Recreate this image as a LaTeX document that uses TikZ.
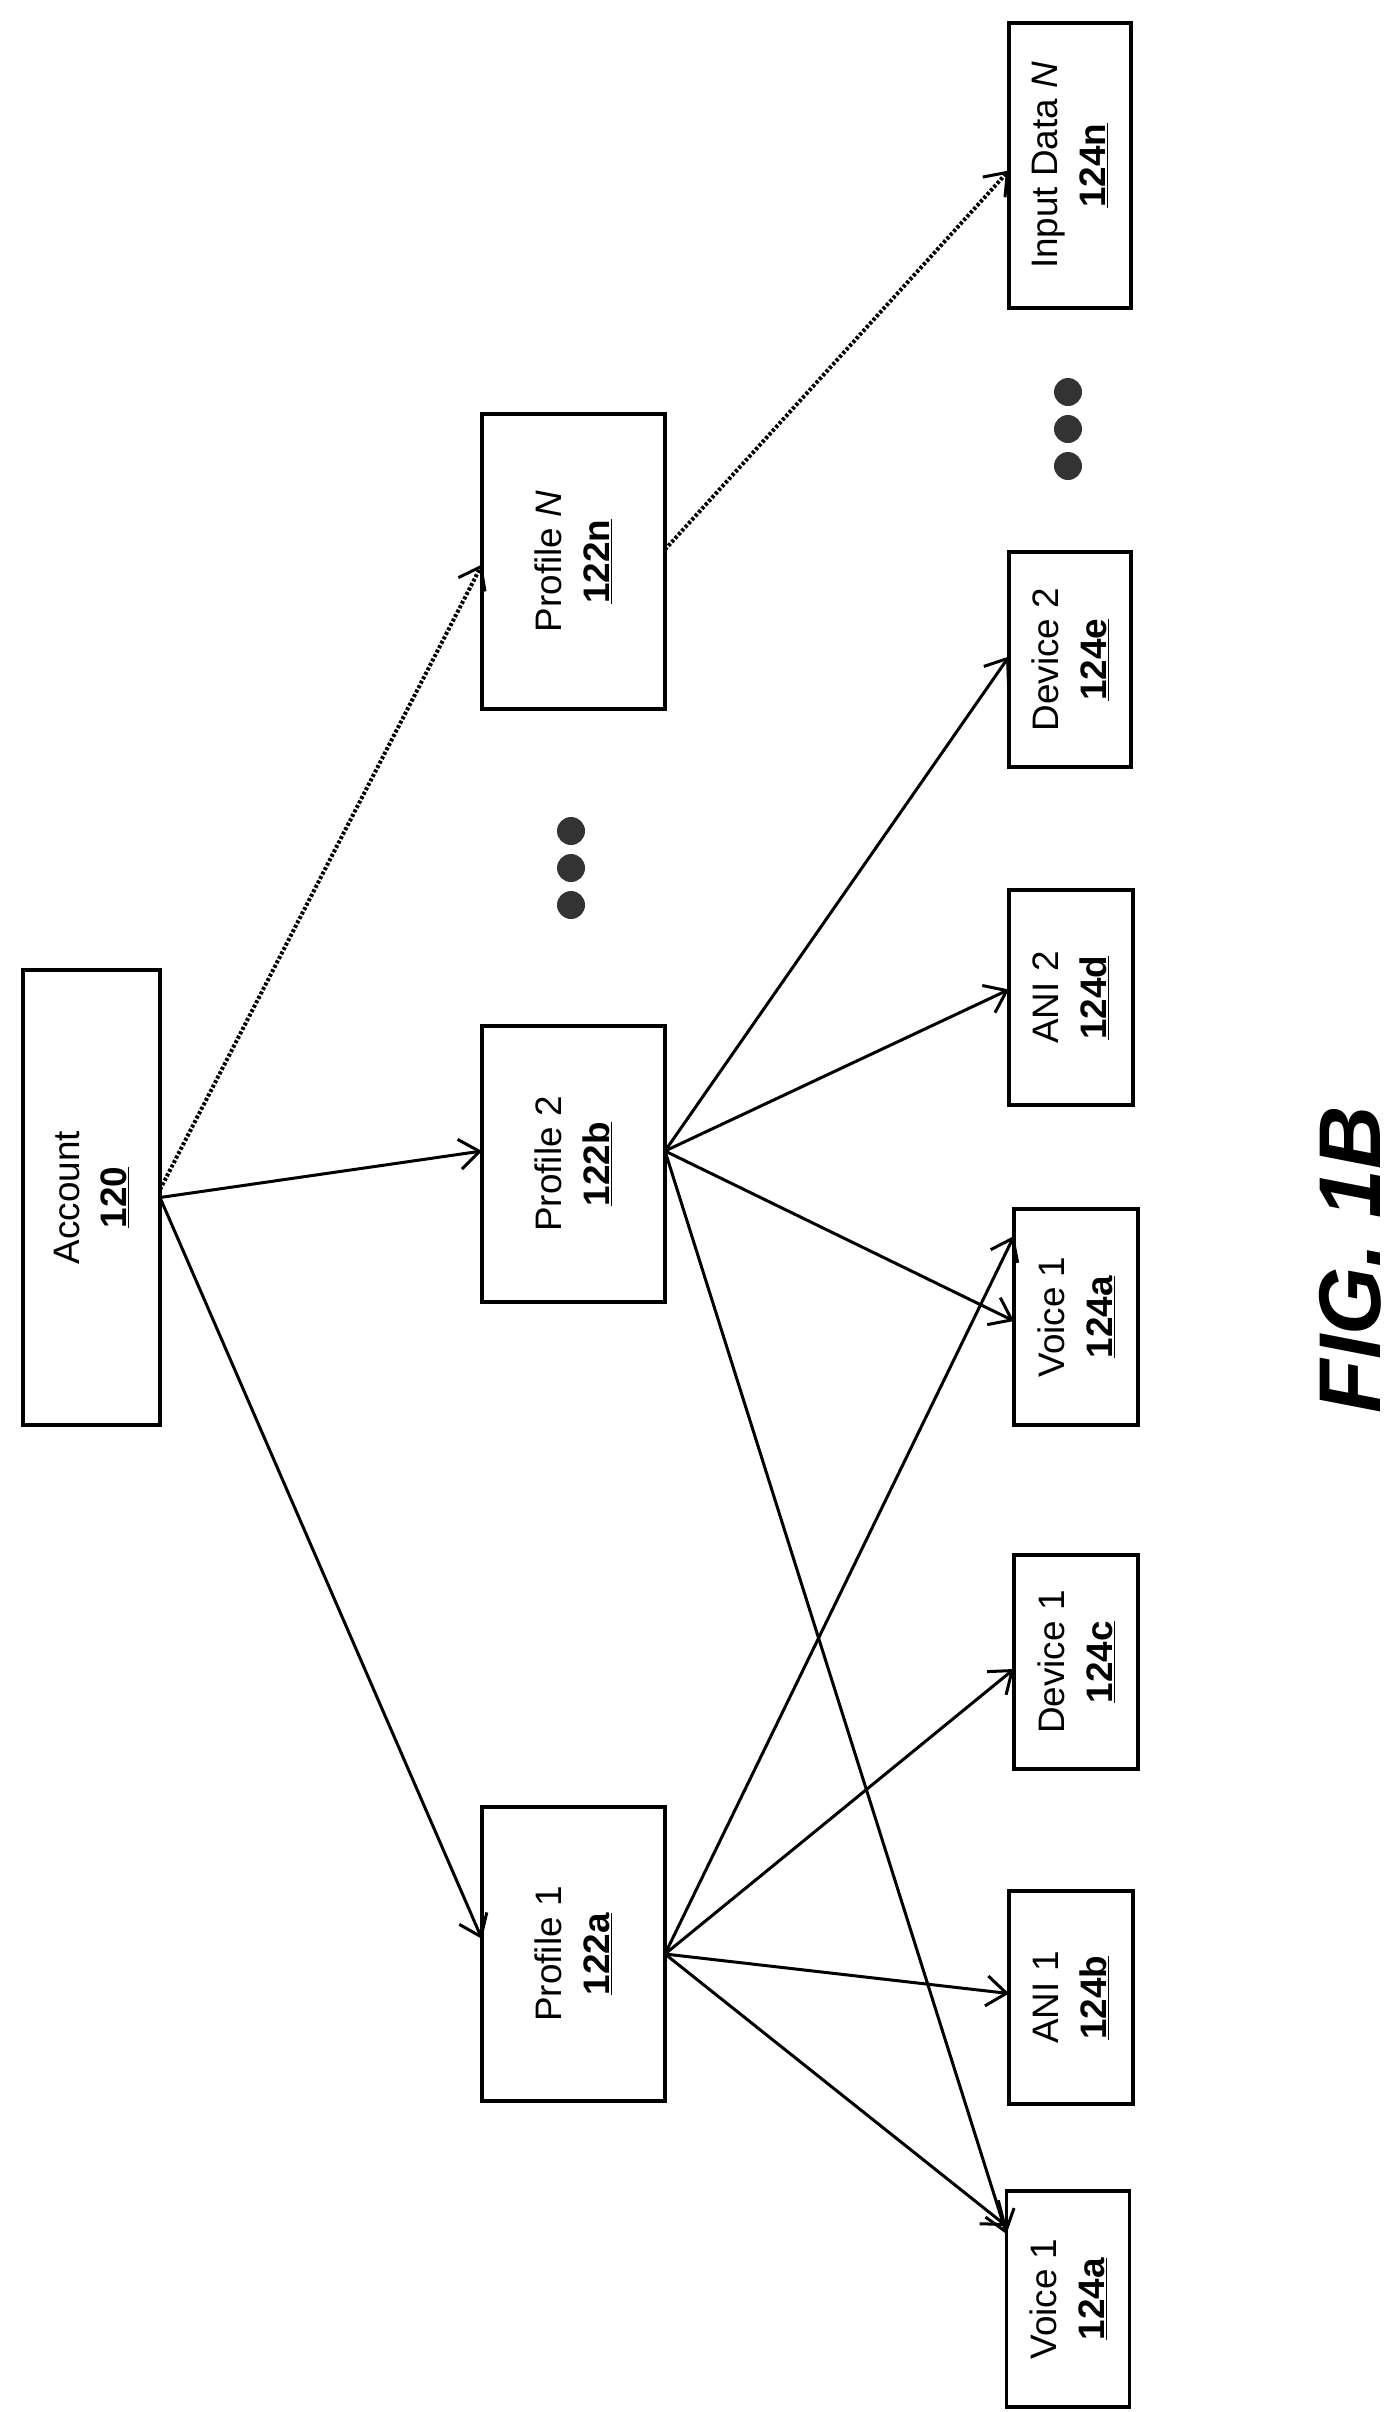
\documentclass[tikz,border=0pt]{standalone}
\usepackage{fontspec}
\setmainfont{Liberation Sans}
\usetikzlibrary{arrows.meta,calc}
\begin{document}
\begin{tikzpicture}[x=1bp,y=-1bp,
  box/.style={draw,line width=3.2bp,rotate=90,align=center,inner sep=0pt,font=\fontsize{37}{48}\selectfont},
  arr/.style={line width=3bp,-{Straight Barb[length=20bp,width=30bp,line width=3bp]}},
  dot/.style={arr,dotted,line width=4bp},
  blob/.style={circle,fill=black!80,minimum size=28bp,inner sep=0pt}]
\useasboundingbox (0,0) rectangle (1400,2412);
\node[box,minimum width=455bp,minimum height=137bp] (acc) at (91.5,1197.5) {Account\\\textbf{\underline{120}}};
\node[box,minimum width=294bp,minimum height=183bp] (p1) at (573.5,1954) {Profile 1\\\textbf{\underline{122a}}};
\node[box,minimum width=276bp,minimum height=183bp] (p2) at (573.5,1164) {Profile 2\\\textbf{\underline{122b}}};
\node[box,minimum width=295bp,minimum height=183bp] (pn) at (573.5,561.5) {Profile \textit{N}\\\textbf{\underline{122n}}};
\node[box,minimum width=216bp,minimum height=123bp] (v1) at (1068,2299) {Voice 1\\\textbf{\underline{124a}}};
\node[box,minimum width=213bp,minimum height=124bp] (a1) at (1071,1997.5) {ANI 1\\\textbf{\underline{124b}}};
\node[box,minimum width=214bp,minimum height=124bp] (d1) at (1076,1662) {Device 1\\\textbf{\underline{124c}}};
\node[box,minimum width=216bp,minimum height=124bp] (v2) at (1076,1317) {Voice 1\\\textbf{\underline{124a}}};
\node[box,minimum width=215bp,minimum height=124bp] (a2) at (1071,997.5) {ANI 2\\\textbf{\underline{124d}}};
\node[box,minimum width=215bp,minimum height=122bp] (d2) at (1070,659.5) {Device 2\\\textbf{\underline{124e}}};
\node[box,minimum width=285bp,minimum height=122bp] (in) at (1070,165.5) {Input Data \textit{N}\\\textbf{\underline{124n}}};
\node[blob] (b1) at (571,831) {};
\node[blob] (b2) at (571,868) {};
\node[blob] (b3) at (571,905) {};
\node[blob] (c1) at (1068,392) {};
\node[blob] (c2) at (1068,429) {};
\node[blob] (c3) at (1068,466) {};
\coordinate (accS) at ($(acc.center)+(68.5,0)$);
\coordinate (accD) at ($(acc.center)+(68.5,-8)$);
\coordinate (p1S) at ($(p1.center)+(91.5,0)$);
\coordinate (p2S) at ($(p2.center)+(91.5,-13)$);
\coordinate (pnS) at ($(pn.center)+(91.5,-12)$);
\draw[arr] (accS) -- ($(p2.center)+(-91.5,-13)$);
\draw[arr] (accS) -- ($(p1.center)+(-91.5,-15)$);
\draw[dot] (accD) -- ($(pn.center)+(-91.5,3)$);
\draw[dot] (pnS) -- ($(in.center)+(-61,5)$);
\draw[arr] (p1S) -- ($(v1.center)+(-61.5,-73)$);
\draw[arr] (p1S) -- ($(a1.center)+(-62,-4)$);
\draw[arr] (p1S) -- ($(d1.center)+(-62,7)$);
\draw[arr] (p1S) -- ($(v2.center)+(-62,-81)$);
\draw[arr] (p2S) -- ($(v2.center)+(-62,4)$);
\draw[arr] (p2S) -- ($(a2.center)+(-62,-8)$);
\draw[arr] (p2S) -- ($(d2.center)+(-61,-3)$);
\draw[arr] (p2S) -- ($(v1.center)+(-61.5,-65)$);
\node[rotate=90,font=\fontsize{88}{96}\selectfont\bfseries\itshape] (fig) at (1350,1260) {FIG. 1B};
\end{tikzpicture}
\end{document}
